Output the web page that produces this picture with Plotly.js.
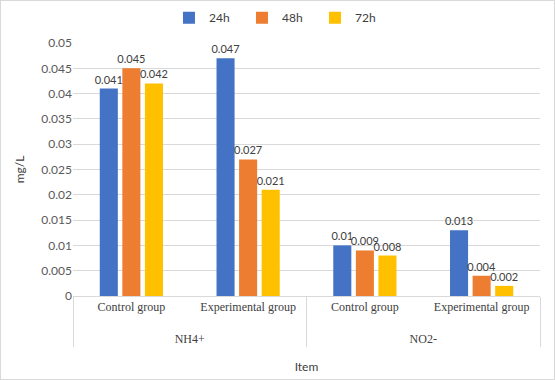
<!DOCTYPE html>
<html>
<head>
<meta charset="utf-8">
<script src="https://cdn.plot.ly/plotly-3.0.1.min.js"></script>
<style>
html,body{margin:0;padding:0;background:#fff;}
#chart{width:555px;height:380px;box-sizing:border-box;border:1px solid #d9d9d9;}
</style>
</head>
<body>
<div id="chart"></div>
<script>
var items = ["NH4+", "NH4+", "NO2-", "NO2-"];
var groups = ["Control group", "Experimental group", "Control group", "Experimental group"];
var seriesNames = ["24h", "48h", "72h"];
var v24 = [0.041, 0.047, 0.01, 0.013];
var v48 = [0.045, 0.027, 0.009, 0.004];
var v72 = [0.042, 0.021, 0.008, 0.002];
var colors = ["#4472C4", "#ED7D31", "#FFC000"];
var yTickVals = [0, 0.005, 0.01, 0.015, 0.02, 0.025, 0.03, 0.035, 0.04, 0.045, 0.05];
var yTickText = ["0", "0.005", "0.01", "0.015", "0.02", "0.025", "0.03", "0.035", "0.04", "0.045", "0.05"];

var sans = "Lato, 'Liberation Sans', sans-serif";
var serif = "'Liberation Serif', serif";
var allVals = [v24, v48, v72];
var traces = allVals.map(function(v, i){
  return {
    type: "bar",
    name: seriesNames[i],
    x: [items.map(function(s){ return "<br>" + s; }), groups],
    y: v,
    marker: {color: colors[i]},
    text: v.map(function(d){ return String(d); }),
    textposition: "outside",
    constraintext: "none",
    cliponaxis: false,
    textfont: {family: sans, size: 11, color: "#404040"},
    hoverinfo: "none"
  };
});

var layout = {
  width: 553, height: 378,
  margin: {l: 72, r: 14, t: 42, b: 83, autoexpand: false},
  paper_bgcolor: "#fff", plot_bgcolor: "#fff",
  barmode: "group",
  bargap: 0.42,
  bargroupgap: 0.2,
  font: {family: sans, color: "#595959", size: 12},
  showlegend: true,
  legend: {orientation: "h", x: 0.44, xanchor: "center", y: 1.1, yanchor: "middle",
           font: {family: sans, size: 12, color: "#404040"}, itemwidth: 30,
           entrywidth: 28, entrywidthmode: "pixels", traceorder: "normal"},
  yaxis: {
    range: [0, 0.05],
    tickvals: yTickVals, ticktext: yTickText,
    showgrid: true, gridcolor: "#d9d9d9", gridwidth: 1,
    zeroline: false, showline: false,
    tickfont: {family: sans, size: 12, color: "#595959"},
    ticks: "", ticklen: 0,
    title: {text: "mg/L", font: {family: sans, size: 12, color: "#404040"}, standoff: 14}
  },
  xaxis: {
    type: "multicategory",
    showline: true, linecolor: "#d9d9d9", linewidth: 1,
    showdividers: true, dividercolor: "#d9d9d9", dividerwidth: 1,
    tickfont: {family: serif, size: 12, color: "#404040"},
    ticks: "",
    title: {text: "Item", font: {family: sans, size: 12, color: "#404040"}, standoff: 17}
  }
};

Plotly.newPlot("chart", traces, layout, {displayModeBar: false, staticPlot: true});
</script>
</body>
</html>
